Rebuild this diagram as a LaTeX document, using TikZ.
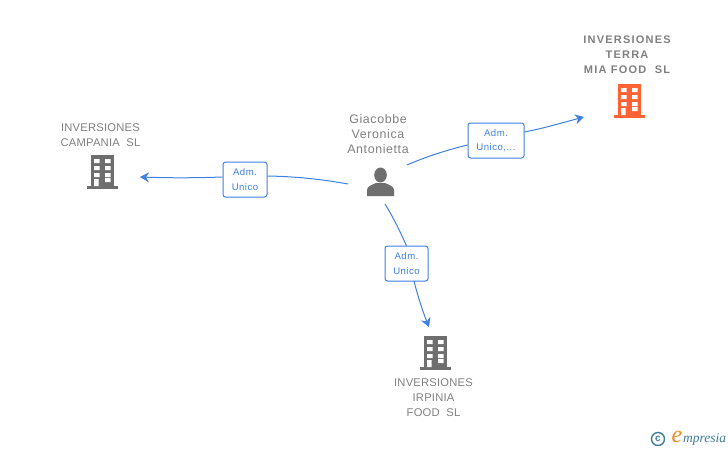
\documentclass[tikz,border=0pt]{standalone}
\usepackage{fontspec}
\setmainfont{Liberation Sans}
\newfontfamily\logofont{Liberation Serif}
\newfontfamily\spacedA[LetterSpace=2]{Liberation Sans}
\newfontfamily\spacedB[LetterSpace=5]{Liberation Sans}
\newfontfamily\spacedC[LetterSpace=11]{Liberation Sans}
\usetikzlibrary{arrows.meta}
\definecolor{edgeblue}{HTML}{3F80E4}
\definecolor{labelgray}{HTML}{808080}
\definecolor{icongray}{HTML}{6E6E6E}
\definecolor{iconorange}{HTML}{FF6235}
\definecolor{logoteal}{HTML}{3F7F96}
\definecolor{logoorange}{HTML}{F08A1E}
\tikzset{
  conn/.style={draw=edgeblue,line width=1pt},
  arrowconn/.style={conn,-{Stealth[length=9pt,width=10pt,inset=3pt]}},
  rolebox/.style={draw=edgeblue,fill=white,line width=1pt,rounded corners=2.5pt,
    inner sep=0pt,align=center,text=edgeblue,font=\spacedB\fontsize{9.6}{14.5}\selectfont},
  entity/.style={text=labelgray,align=center,inner sep=0pt,font=\spacedA\fontsize{11.2}{15}\selectfont},
  entitybold/.style={text=labelgray,align=center,inner sep=0pt,font=\spacedC\fontsize{11}{15}\selectfont\bfseries},
  person/.style={text=labelgray,align=center,inner sep=0pt,font=\spacedB\fontsize{12.4}{15}\selectfont},
  pics/building/.style={code={
    \fill[#1] (-11.5,-34) rectangle (11.5,-1);
    \fill[#1] (-16,-3) rectangle (15.5,0);
    \fill[white] (-8.5,-30) rectangle (-3,-26) (2.5,-30) rectangle (8,-26)
      (-8.5,-23) rectangle (-3,-19) (2.5,-23) rectangle (8,-19)
      (-8.5,-16) rectangle (-3,-12) (2.5,-16) rectangle (8,-12)
      (2.5,-11) rectangle (8,-7) (-8.5,-10) rectangle (-4,-3);
  }},
}
\begin{document}
\begin{tikzpicture}[x=1pt,y=-1pt]
\useasboundingbox (0,0) rectangle (728,450);
\fill[white] (0,0) rectangle (728,450);

% anchors of connectors
\coordinate (pw) at (348,184);
\coordinate (pe) at (407,165);
\coordinate (ps) at (385,204);
\coordinate (cw) at (140,177);
\coordinate (te) at (584,117);
\coordinate (is) at (429,327);
\coordinate (ib) at (414,281);

% role boxes
\node[rolebox,minimum width=44pt,minimum height=35pt] (boxc) at (245,179.5) {Adm.\\Unico};
\node[rolebox,minimum width=56pt,minimum height=35pt] (boxt) at (496,140.5) {Adm.\\Unico,...};
\node[rolebox,minimum width=43pt,minimum height=35pt] (boxi) at (406.5,263.5) {Adm.\\Unico};

% connectors
\draw[conn] (pw) .. controls (320,179) and (295,176.5) .. (boxc.east |- 0,176);
\draw[arrowconn] (boxc.west |- 0,177) .. controls (195,178) and (170,178) .. (cw);
\draw[conn] (pe) .. controls (425,157) and (447,150) .. (boxt.west |- 0,145);
\draw[arrowconn] (boxt.east |- 0,132) .. controls (545,128) and (565,122) .. (te);
\draw[conn] (ps) .. controls (393,217) and (400,231) .. (boxi.north |- 0,246);
\draw[arrowconn] (ib) .. controls (418,297) and (423,312) .. (is);

% entities
\node[person] (personlabel) at (378,134) {Giacobbe\\Veronica\\Antonietta};
\node[inner sep=0pt,minimum width=27pt,minimum height=28pt] (personicon) at (380.5,182) {};
\fill[icongray] (380.5,175) ellipse (6.3pt and 7.5pt);
\fill[icongray] (367,196) -- (367,190) .. controls (367,186) and (372,185) .. (376,183)
  -- (385,183) .. controls (389,185) and (394,186) .. (394,190) -- (394,196) -- cycle;

\node[entity] (campania) at (100.5,135.5) {INVERSIONES\\CAMPANIA\ \ SL};
\node[inner sep=0pt,minimum width=32pt,minimum height=34pt] (campaniaicon) at (102.5,172) {};
\pic at (102.5,189) {building=icongray};

\node[entitybold] (terra) at (627,55) {INVERSIONES\\TERRA\\MIA FOOD\ \ SL};
\node[inner sep=0pt,minimum width=32pt,minimum height=34pt] (terraicon) at (629.5,101) {};
\pic at (629.5,118) {building=iconorange};

\node[entity] (irpinia) at (433.5,398) {INVERSIONES\\IRPINIA\\FOOD\ \ SL};
\node[inner sep=0pt,minimum width=32pt,minimum height=34pt] (irpiniaicon) at (435.5,353) {};
\pic at (435.5,370) {building=icongray};

% logo
\node[draw=logoteal,line width=1.4pt,circle,inner sep=0pt,minimum size=13pt,text=logoteal,
  font=\fontsize{10}{10}\selectfont\bfseries] (copyr) at (658,439) {c};
\node[inner sep=0pt,text=logoorange,font=\logofont\itshape\fontsize{24}{24}\selectfont] (logoe) at (677,437) {e};
\node[inner sep=0pt,anchor=west,text=logoteal,font=\logofont\itshape\fontsize{13.5}{13.5}\selectfont] (logotext) at (683,439.5) {mpresia};
\end{tikzpicture}
\end{document}
